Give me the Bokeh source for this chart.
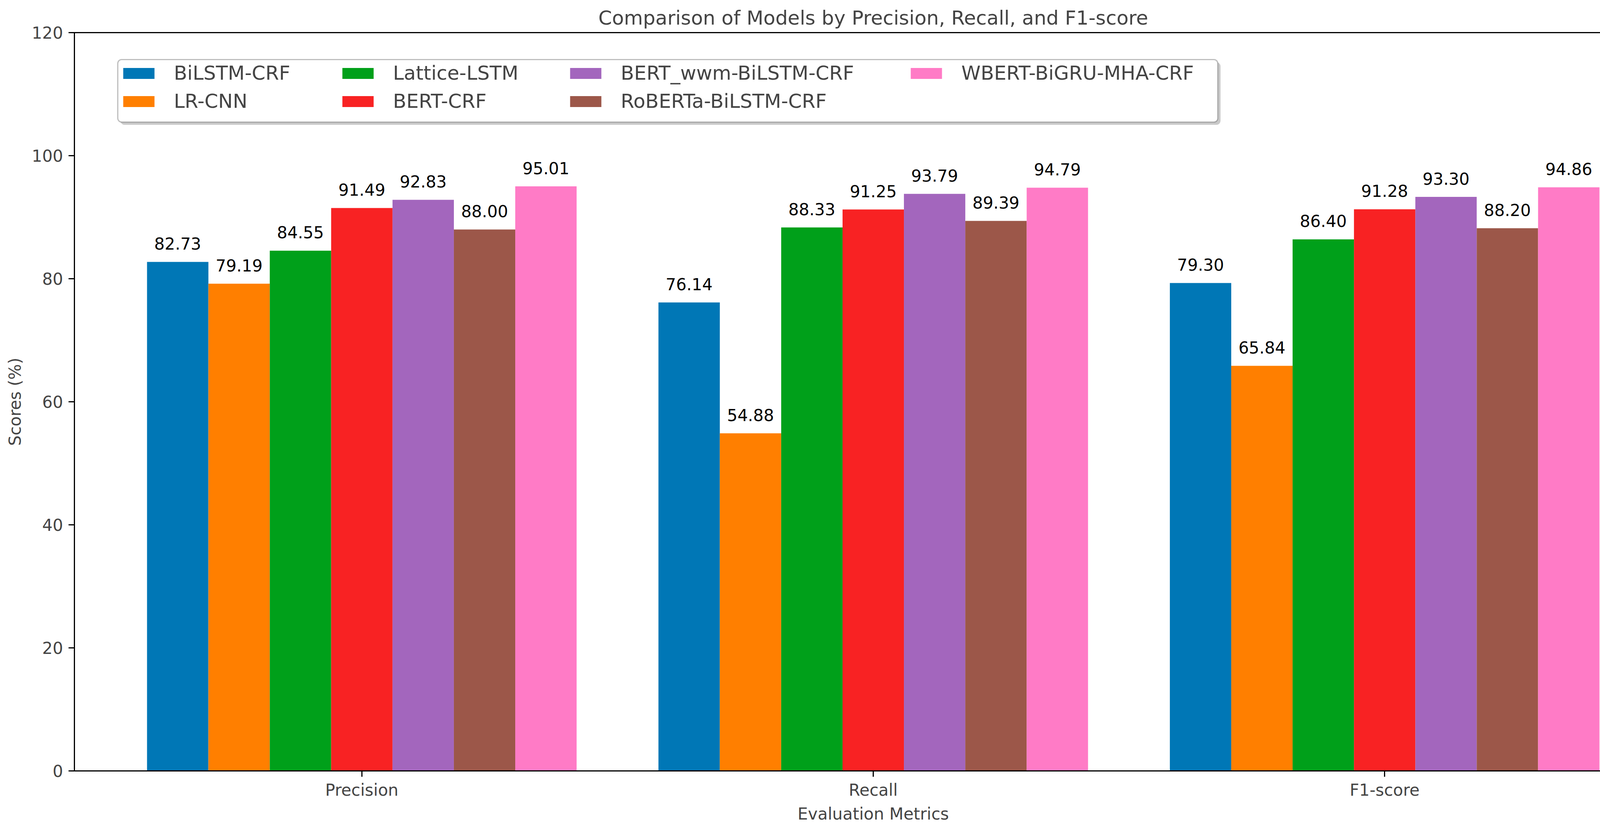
from bokeh.plotting import figure
from bokeh.models import (ColumnDataSource, Range1d, FixedTicker, Legend, LegendItem,
                          BoxAnnotation)
from bokeh.transform import dodge
from bokeh.embed import file_html
from bokeh.resources import INLINE

metrics = ["Precision", "Recall", "F1-score"]
models = ["BiLSTM-CRF", "LR-CNN", "Lattice-LSTM", "BERT-CRF",
          "BERT_wwm-BiLSTM-CRF", "RoBERTa-BiLSTM-CRF", "WBERT-BiGRU-MHA-CRF"]
bilstm_crf = [82.73, 76.14, 79.30]
lr_cnn = [79.19, 54.88, 65.84]
lattice_lstm = [84.55, 88.33, 86.40]
bert_crf = [91.49, 91.25, 91.28]
bert_wwm = [92.83, 93.79, 93.30]
roberta = [88.00, 89.39, 88.20]
wbert = [95.01, 94.79, 94.86]
series = [bilstm_crf, lr_cnn, lattice_lstm, bert_crf, bert_wwm, roberta, wbert]
colors = ["#0077b6", "#ff7f00", "#00a01a", "#f82223", "#a366bd", "#9c5749", "#ff7bc6"]
y_ticks = [0, 20, 40, 60, 80, 100, 120]

BAR_W = 0.12
FONT = "DejaVu Sans"
X0, X1 = -0.562, 2.562
FRAME_W, FRAME_H = 4090, 1890

p = figure(width=4305, height=2119, output_backend="svg", toolbar_location=None,
           x_range=Range1d(X0, X1), y_range=Range1d(0, 120),
           title="Comparison of Models by Precision, Recall, and F1-score",
           min_border_left=190, min_border_right=25, min_border_top=83,
           min_border_bottom=146)

p.title.align = "center"
p.title.text_font = FONT
p.title.text_font_size = "50px"
p.title.text_font_style = "normal"
p.title.standoff = 18

p.grid.visible = False
p.outline_line_color = "black"
p.outline_line_width = 3
p.background_fill_color = "white"


def px_to_x(px):
    return X0 + px / FRAME_W * (X1 - X0)


def py_to_y(py):
    return 120 - py / FRAME_H * 120


# legend frame (with a soft shadow like matplotlib's shadow=True)
bl, br, bt, bb = 111, 2927, 69, 229
extra = {}
if "border_radius" in BoxAnnotation.properties():
    extra["border_radius"] = 10
shadow = BoxAnnotation(left=px_to_x(bl + 7), right=px_to_x(br + 7),
                       top=py_to_y(bt + 7), bottom=py_to_y(bb + 7),
                       fill_color="#888888", fill_alpha=0.45, line_color=None, **extra)
frame = BoxAnnotation(left=px_to_x(bl), right=px_to_x(br), top=py_to_y(bt),
                      bottom=py_to_y(bb), fill_color="white", fill_alpha=1.0,
                      line_color="#2b2b2b", line_width=3, **extra)
p.add_layout(shadow)
p.add_layout(frame)

renderers = []
for i, (name, vals, c) in enumerate(zip(models, series, colors)):
    src = ColumnDataSource(dict(x=list(range(len(metrics))), y=vals,
                                lab=["%.2f" % v for v in vals]))
    off = (i - 3) * BAR_W
    r = p.vbar(x=dodge("x", off), top="y", width=BAR_W, source=src,
               fill_color=c, line_color=None)
    p.text(x=dodge("x", off), y="y", text="lab", source=src,
           text_align="center", text_baseline="alphabetic", y_offset=-47,
           text_font={"value": FONT}, text_font_size="42px", text_color="black")
    renderers.append(r)

# four legend columns, two entries each (column-major like matplotlib ncol=4)
ITEM_H, SPACING = 58, 14
LEG_TOP = 75  # distance of the legend rows' top from the frame top, px
col_x = [115, 676, 1259, 2131]
for ci, cx in enumerate(col_x):
    idx = [k for k in (2 * ci, 2 * ci + 1) if k < len(models)]
    items = [LegendItem(label=models[k], renderers=[renderers[k]]) for k in idx]
    n = len(items)
    leg_h = n * ITEM_H + (n - 1) * SPACING
    lg = Legend(items=items, location=(cx, FRAME_H - LEG_TOP - leg_h),
                orientation="vertical",
                label_text_font=FONT, label_text_font_size="50px",
                glyph_width=100, glyph_height=35, label_height=ITEM_H,
                label_standoff=40, spacing=SPACING, padding=0, margin=0,
                border_line_color=None, background_fill_alpha=0.0)
    p.add_layout(lg, "center")

p.xaxis.ticker = FixedTicker(ticks=list(range(len(metrics))))
p.xaxis.major_label_overrides = {i: m for i, m in enumerate(metrics)}
p.yaxis.ticker = FixedTicker(ticks=y_ticks)
p.xaxis.minor_tick_line_color = None
p.yaxis.minor_tick_line_color = None
for ax in (p.xaxis, p.yaxis):
    ax.axis_line_width = 3
    ax.major_tick_line_width = 3
    ax.major_tick_out = 15
    ax.major_tick_in = 0
    ax.major_label_text_font = FONT
    ax.major_label_text_font_size = "42px"
    ax.axis_label_text_font = FONT
    ax.axis_label_text_font_size = "42px"
    ax.axis_label_text_font_style = "normal"
p.yaxis.major_label_standoff = 14
p.xaxis.major_label_standoff = 9
p.yaxis.axis_label = "Scores (%)"
p.xaxis.axis_label = "Evaluation Metrics"
p.yaxis.axis_label_standoff = 15
p.xaxis.axis_label_standoff = 9

open("out.html", "w").write(file_html(p, INLINE))
